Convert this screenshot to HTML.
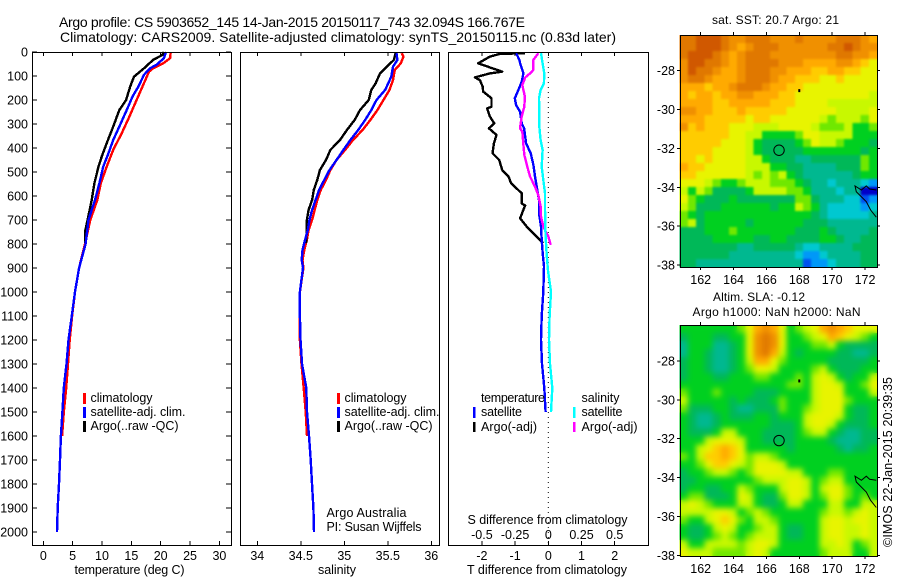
<!DOCTYPE html>
<html>
<head>
<meta charset="utf-8">
<title>Argo profile chart</title>
<style>
html,body{margin:0;padding:0;background:#fff;}
svg{display:block;}
text{font-family:"Liberation Sans",sans-serif;font-size:12.5px;fill:#000;}
.ttl{font-size:14px;}
.sm{font-size:12px;}
</style>
</head>
<body>
<svg id="chart" xmlns="http://www.w3.org/2000/svg" width="900" height="580" viewBox="0 0 900 580">
<defs>
<filter id="blurSst" x="0" y="0" width="100%" height="100%" color-interpolation-filters="sRGB"><feGaussianBlur in="SourceGraphic" stdDeviation="1" result="b"/><feMerge><feMergeNode in="SourceGraphic"/><feMergeNode in="b"/></feMerge></filter>
<filter id="blurSla" x="0" y="0" width="100%" height="100%" color-interpolation-filters="sRGB"><feGaussianBlur in="SourceGraphic" stdDeviation="2.8" result="b"/><feMerge><feMergeNode in="SourceGraphic"/><feMergeNode in="b"/></feMerge></filter>
</defs>
<rect x="0" y="0" width="900" height="580" fill="#fff"/>
<g id="maps"></g>
<g id="plots"></g>
<g id="ticks"></g>

<text class="ttl" x="59" y="27" textLength="466" lengthAdjust="spacing">Argo profile: CS 5903652_145 14-Jan-2015 20150117_743 32.094S 166.767E</text>
<text class="ttl" x="60" y="42" textLength="556" lengthAdjust="spacing">Climatology: CARS2009. Satellite-adjusted climatology: synTS_20150115.nc (0.83d later)</text>

<text x="129.5" y="574" text-anchor="middle" textLength="110" lengthAdjust="spacing">temperature (deg C)</text>
<text x="337" y="574" text-anchor="middle" textLength="38" lengthAdjust="spacing">salinity</text>
<text x="547" y="574" text-anchor="middle" textLength="160" lengthAdjust="spacing">T difference from climatology</text>
<text x="547.5" y="524" text-anchor="middle" textLength="160" lengthAdjust="spacing">S difference from climatology</text>

<g>
<rect x="83" y="393" width="3" height="11" fill="#f00"/>
<rect x="83" y="407" width="3" height="11" fill="#00f"/>
<rect x="83" y="421" width="3" height="11" fill="#000"/>
<text x="90.5" y="402" textLength="62" lengthAdjust="spacing">climatology</text>
<text x="90.5" y="416" textLength="95" lengthAdjust="spacing">satellite-adj. clim.</text>
<text x="90.5" y="430" textLength="88" lengthAdjust="spacing">Argo(..raw -QC)</text>
</g>
<g>
<rect x="337" y="393" width="3" height="11" fill="#f00"/>
<rect x="337" y="407" width="3" height="11" fill="#00f"/>
<rect x="337" y="421" width="3" height="11" fill="#000"/>
<text x="344.5" y="402" textLength="62" lengthAdjust="spacing">climatology</text>
<text x="344.5" y="416" textLength="95" lengthAdjust="spacing">satellite-adj. clim.</text>
<text x="344.5" y="430" textLength="88" lengthAdjust="spacing">Argo(..raw -QC)</text>
<text x="326.5" y="517" textLength="80" lengthAdjust="spacing">Argo Australia</text>
<text x="326.5" y="531" textLength="95" lengthAdjust="spacing">PI: Susan Wijffels</text>
</g>
<g>
<text x="481" y="402" textLength="64" lengthAdjust="spacing">temperature</text>
<rect x="473" y="407" width="2.5" height="11" fill="#00f"/>
<text x="481" y="416" textLength="41" lengthAdjust="spacing">satellite</text>
<rect x="473" y="422" width="2.5" height="10" fill="#000"/>
<text x="481" y="431" textLength="56" lengthAdjust="spacing">Argo(-adj)</text>
<text x="581.5" y="402" textLength="38" lengthAdjust="spacing">salinity</text>
<rect x="573" y="407" width="2.5" height="11" fill="#0ff"/>
<text x="581.5" y="416" textLength="41" lengthAdjust="spacing">satellite</text>
<rect x="573" y="422" width="2.5" height="10" fill="#f0f"/>
<text x="581.5" y="431" textLength="56" lengthAdjust="spacing">Argo(-adj)</text>
</g>

<text class="sm" x="775.5" y="24" text-anchor="middle" textLength="127" lengthAdjust="spacing">sat. SST: 20.7 Argo: 21</text>
<text class="sm" x="759" y="301" text-anchor="middle" textLength="92" lengthAdjust="spacing">Altim. SLA: -0.12</text>
<text class="sm" x="776.5" y="316" text-anchor="middle" textLength="168" lengthAdjust="spacing">Argo h1000: NaN h2000: NaN</text>
<text transform="translate(892,547) rotate(-90)" textLength="170" lengthAdjust="spacing">©IMOS 22-Jan-2015 20:39:35</text>
</svg>

<script>
/* ---------- profile data ---------- */
const depthTicks = [0,100,200,300,400,500,600,700,800,900,1000,1100,1200,1300,1400,1500,1600,1700,1800,1900,2000];
const tempTicks = [0,5,10,15,20,25,30];
const salTicks = [34,34.5,35,35.5,36];
const salTickLabels = ['34','34.5','35','35.5','36'];
const tDiffTicks = [-2,-1,0,1,2];
const sDiffTicks = [-0.5,-0.25,0,0.25,0.5];
const sDiffTickLabels = ['-0.5','-0.25','0','0.25','0.5'];
const lonTicks = [162,164,166,168,170,172];
const latTicks = [-28,-30,-32,-34,-36,-38];

const tempClimDepth = [0,26,47,68,82,144,200,270,339,408,478,547,617,700,800,900,1000,1100,1200,1300,1400,1500,1600];
const tempClim = [21.7,21.6,20.45,18.7,18,16.9,15.9,14.65,13.35,11.9,10.8,9.8,9.2,8,7.1,6.1,5.4,4.9,4.5,4.2,3.9,3.5,3.2];
const tempSatDepth = [0,26,53,68,95,144,186,242,311,367,422,478,547,617,700,800,900,1000,1100,1200,1300,1400,1500,1600,1700,1800,1900,2000];
const tempSat = [20.9,20.55,19.3,18.2,17.15,16.2,15.2,14.2,12.95,11.9,11.1,10.2,9.55,8.8,7.7,7.2,6.1,5.4,4.85,4.3,3.95,3.5,3.25,3,2.85,2.68,2.45,2.33];
const tempArgoDepth = [0,12,33,68,103,144,200,242,311,380,436,478,547,617,700,750,796];
const tempArgo = [20.55,20.3,18.7,17.15,15.45,14.8,14.1,12.95,11.9,10.8,9.95,9.4,8.7,8.25,7.55,7.1,7.1];

const salClimDepth = [5,19,47,75,117,158,200,242,283,325,367,408,450,492,533,575,617,658,700,742,783,825,867,900,1000,1100,1200,1300,1400,1500,1600];
const salClim = [35.66,35.68,35.65,35.58,35.56,35.52,35.45,35.38,35.3,35.21,35.1,35.01,34.91,34.84,34.79,34.73,34.69,34.66,34.63,34.59,34.57,34.54,34.52,34.53,34.49,34.485,34.49,34.508,34.533,34.556,34.571];
const salSatDepth = [5,33,61,103,158,200,242,283,325,367,408,450,492,533,575,617,658,700,742,783,825,867,900,1000,1100,1200,1300,1400,1500,1600,1700,1800,1900,2000];
const salSat = [35.6,35.61,35.56,35.54,35.47,35.37,35.31,35.24,35.16,35.07,34.99,34.91,34.83,34.77,34.71,34.67,34.63,34.6,34.58,34.55,34.52,34.51,34.525,34.49,34.49,34.497,34.514,34.563,34.571,34.594,34.614,34.629,34.645,34.652];
const salArgoDepth = [5,33,61,89,131,158,200,242,283,325,367,408,450,492,533,575,617,658,700,742,797];
const salArgo = [35.59,35.57,35.49,35.41,35.36,35.31,35.28,35.18,35.12,35.03,34.95,34.84,34.79,34.72,34.69,34.65,34.63,34.59,34.57,34.57,34.56];

const diffTArgoDepth = [5,8,19,47,64,82,89,106,117,144,165,193,228,235,269,297,318,346,381,422,450,492,519,547,589,631,640,693,728,769,797];
const diffTArgo = [-0.7,-1.46,-1.76,-2.11,-1.76,-1.39,-1.76,-2.21,-2.06,-1.98,-1.96,-1.71,-1.71,-1.84,-1.76,-1.63,-1.79,-1.56,-1.64,-1.68,-1.48,-1.39,-1.2,-1.12,-0.8,-0.8,-0.7,-0.85,-0.65,-0.35,-0.15];
const diffTSatDepth = [5,33,47,89,124,158,193,221,249,297,318,381,422,471,519,561,617,672,728,783,839,894,1000,1100,1200,1300,1400,1500];
const diffTSat = [-0.97,-0.87,-0.85,-0.75,-0.8,-0.9,-1.01,-0.97,-0.85,-0.8,-0.73,-0.67,-0.53,-0.45,-0.4,-0.35,-0.28,-0.28,-0.22,-0.2,-0.17,-0.13,-0.15,-0.2,-0.22,-0.19,-0.12,-0.08];
const diffSArgoDepth = [5,33,75,89,106,138,186,228,269,318,332,381,429,478,519,561,596,644,686,728,769,804];
const diffSArgo = [-0.075,-0.113,-0.113,-0.138,-0.173,-0.196,-0.176,-0.181,-0.2,-0.213,-0.196,-0.188,-0.181,-0.158,-0.138,-0.1,-0.075,-0.058,-0.055,-0.038,0,0.018];
const diffSSatDepth = [5,47,89,131,158,193,256,311,367,408,478,533,589,644,714,769,839,908,1000,1100,1200,1300,1400,1500];
const diffSSat = [-0.055,-0.043,-0.03,-0.033,-0.058,-0.07,-0.068,-0.068,-0.058,-0.043,-0.05,-0.038,-0.025,-0.025,-0.023,-0.02,-0.013,-0.003,0.02,0.01,0.005,0.013,0.03,0.02];

/* ---------- map data: one character per cell, level z,0..d ---------- */
const sstGrid = [
"ccdddcbbcccbbbcbbbbcccba",
"ccdddcbabcccbbbbbbccdcbb",
"cdddcbabcccbbbbbbbbccbba",
"bddccbabccccbbbaaaabba98",
"bdccbaabcccbbaaa99aa9988",
"bccbaaabcccbaa9998898888",
"aaa9aabcccbaa99888888888",
"a9aa9aabbaaa998888888887",
"aaaa99aaaaa9998888777777",
"bbaa999a9999988888877778",
"aaa999998998888887677768",
"b9a999888777888876667556",
"999999887755556887777555",
"999998887544445687765554",
"999988887544444555555545",
"998988887754443344444465",
"a99888887775544333344465",
"998888887676754333333455",
"888765567776665433233321",
"7576444457777665333233zz",
"865444544444446643332201",
"764445555554557653222212",
"654555555555555543222223",
"674555554555555444333333",
"444555655555554445433334",
"444455555445544445543344",
"444444433444443223333444",
"444444333333332112333344",
"443333333333333011233344"
];
const slaGrid = [
"555555568aba85678aba9888",
"455544558bcb855678a98765",
"355533458bcb855566754444",
"355433458bca754555544334",
"455433457aa8655555444445",
"455433456887555567544455",
"455544555665556578754557",
"555555555555566578875568",
"655565555444555578885557",
"755555454445655578886555",
"644455433444655678885445",
"543345444554555788875445",
"543345555554445788754445",
"544457755544445677543344",
"555788875544445555433344",
"55789a985555545555543445",
"65799a986776555555555555",
"556899876888755555555555",
"455677656888877555665555",
"445555555677788756775555",
"455445576555788757886555",
"566444587544688756886565",
"787655577544577555775577",
"777788756765555556776787",
"655789865776555557887887",
"544578755677544557887787",
"544567656777544557887787",
"755777767887555557787567",
"877766667875555556777557"
];
const coastLon = [172.69,172.28,172.08,171.78,171.39,171.47,172.08,172.34,172.69];
const coastLat = [-34.14,-34.09,-33.93,-34.14,-33.93,-34.23,-34.74,-35.17,-35.54];
const floatLon = [166.767];
const floatLat = [-32.094];
const islandLon = [168];
const islandLat = [-29];
const palette = {'z':'#0000c8','0':'#0050f0','1':'#0098f8','2':'#00c8d0','3':'#00b890','4':'#00b858','5':'#00d020','6':'#70e800','7':'#c8f800','8':'#e8f400','9':'#ffcc00','a':'#ffaa00','b':'#f09000','c':'#e07800','d':'#d05800'};

/* ---------- scales ---------- */
const NS = 'http://www.w3.org/2000/svg';
const plotsG = document.getElementById('plots');
const ticksG = document.getElementById('ticks');
const mapsG = document.getElementById('maps');
const TOP = 52, BOT = 545;
const yDepth = d => 52 + d * 0.2399;
const xTemp = t => 43.3 + t * 5.87;
const xSal = s => 257.3 + (s - 34) * 87;
const xDT = t => 548.3 + t * 33.2;
const xDS = s => 548.3 + s * 132.8;
const xLon = lon => 700.7 + (lon - 162) * 16.43;
const ySst = lat => 70.7 + (-28 - lat) * 19.43;
const ySla = lat => 361 + (-28 - lat) * 19.43;

function mk(parent, tag, attrs, name) {
  const el = document.createElementNS(NS, tag);
  for (const k in attrs) el.setAttribute(k, attrs[k]);
  
  
  parent.appendChild(el);
  return el;
}
function txt(parent, x, y, s, anchor, name) {
  const el = mk(parent, 'text', {x: x, y: y, 'text-anchor': anchor}, name);
  el.textContent = s;
  return el;
}
function tick(x1, y1, x2, y2, name) {
  mk(ticksG, 'line', {x1: x1, y1: y1, x2: x2, y2: y2, stroke: '#000', 'stroke-width': 1, 'shape-rendering': 'crispEdges'}, name);
}
function profile(depths, vals, sx, color, name) {
  const pts = depths.map((d, i) => sx(vals[i]).toFixed(1) + ',' + yDepth(d).toFixed(1)).join(' ');
  mk(plotsG, 'polyline', {points: pts, fill: 'none', stroke: color, 'stroke-width': 2.4, 'stroke-linejoin': 'round', 'shape-rendering': 'crispEdges'}, name);
}
function frame(x0, y0, x1, y1, name) {
  mk(ticksG, 'rect', {x: x0 + 0.5, y: y0 + 0.5, width: x1 - x0, height: y1 - y0, fill: 'none', stroke: '#000', 'stroke-width': 1, 'shape-rendering': 'crispEdges'}, name);
}

/* ---------- profile panels ---------- */
profile(tempClimDepth, tempClim, xTemp, '#f00', 'temperature-climatology-line');
profile(tempArgoDepth, tempArgo, xTemp, '#000', 'temperature-argo-line');
profile(tempSatDepth, tempSat, xTemp, '#00f', 'temperature-satellite-line');
profile(salClimDepth, salClim, xSal, '#f00', 'salinity-climatology-line');
profile(salArgoDepth, salArgo, xSal, '#000', 'salinity-argo-line');
profile(salSatDepth, salSat, xSal, '#00f', 'salinity-satellite-line');
mk(plotsG, 'line', {x1: xDT(0), y1: TOP, x2: xDT(0), y2: BOT, stroke: '#000', 'stroke-width': 1, 'stroke-dasharray': '1 4'}, 'zero-difference-line');
profile(diffTArgoDepth, diffTArgo, xDT, '#000', 'difference-t-argo-line');
profile(diffTSatDepth, diffTSat, xDT, '#00f', 'difference-t-satellite-line');
profile(diffSArgoDepth, diffSArgo, xDS, '#f0f', 'difference-s-argo-line');
profile(diffSSatDepth, diffSSat, xDS, '#0ff', 'difference-s-satellite-line');

frame(32, TOP, 231, BOT, 'temperature-panel-frame');
frame(240, TOP, 439, BOT, 'salinity-panel-frame');
frame(448, TOP, 648, BOT, 'difference-panel-frame');

depthTicks.forEach(d => {
  const y = yDepth(d);
  tick(32, y, 37, y, 'depth-tick-left');
  tick(231, y, 226, y, 'depth-tick-right');
  txt(ticksG, 28, y + 4.5, String(d), 'end', 'depth-tick-label');
});
tempTicks.forEach(t => {
  const x = xTemp(t);
  tick(x, TOP, x, TOP + 4, 'temperature-tick-top');
  tick(x, BOT, x, BOT - 4, 'temperature-tick-bottom');
  txt(ticksG, x, 560, String(t), 'middle', 'temperature-tick-label');
});
salTicks.forEach((s, i) => {
  const x = xSal(s);
  tick(x, TOP, x, TOP + 4, 'salinity-tick-top');
  tick(x, BOT, x, BOT - 4, 'salinity-tick-bottom');
  txt(ticksG, x, 560, salTickLabels[i], 'middle', 'salinity-tick-label');
});
tDiffTicks.forEach(t => {
  const x = xDT(t);
  tick(x, TOP, x, TOP + 4, 'difference-tick-top');
  tick(x, BOT, x, BOT - 4, 'difference-tick-bottom');
  txt(ticksG, x, 560, String(t), 'middle', 't-difference-tick-label');
});
sDiffTicks.forEach((s, i) => {
  txt(ticksG, xDS(s), 539, sDiffTickLabels[i], 'middle', 's-difference-tick-label');
});

/* ---------- maps ---------- */
function drawMap(grid, yLat, top, bottom, key, filterId) {
  const left = 679.7, right = 877;
  const cols = 24, rows = grid.length;
  const lonL = 162 + (left - 700.7) / 16.43, lonR = 162 + (right - 700.7) / 16.43;
  const latT = -28 - (top - yLat(-28)) / 19.43, latB = -28 - (bottom - yLat(-28)) / 19.43;
  const g = mk(mapsG, 'g', {'shape-rendering': 'crispEdges', filter: 'url(#' + filterId + ')'}, key + '-heatmap');
  grid.forEach((row, r) => {
    for (let c = 0; c < cols; c++) {
      const lon0 = lonL + (lonR - lonL) * c / cols, lon1 = lonL + (lonR - lonL) * (c + 1) / cols;
      const lat0 = latT + (latB - latT) * r / rows, lat1 = latT + (latB - latT) * (r + 1) / rows;
      mk(g, 'rect', {x: xLon(lon0), y: yLat(lat0), width: xLon(lon1) - xLon(lon0) + 0.5, height: yLat(lat1) - yLat(lat0) + 0.5, fill: palette[row[c]] || palette['5']}, key + '-cell');
    }
  });
  const pts = coastLon.map((lon, i) => xLon(lon).toFixed(1) + ',' + yLat(coastLat[i]).toFixed(1)).join(' ');
  mk(mapsG, 'polyline', {points: pts, fill: 'none', stroke: '#000', 'stroke-width': 1}, key + '-coastline');
  mk(mapsG, 'circle', {cx: xLon(floatLon[0]), cy: yLat(floatLat[0]), r: 5.2, fill: 'none', stroke: '#000', 'stroke-width': 1}, key + '-float-position');
  mk(mapsG, 'rect', {x: xLon(islandLon[0]) - 1, y: yLat(islandLat[0]) - 1, width: 2, height: 3, fill: '#000'}, key + '-island-marker');
  frame(680, top, 877, bottom, key + '-map-frame');
  lonTicks.forEach(lon => {
    const x = xLon(lon);
    tick(x, top, x, top - 3, key + '-lon-tick-top');
    tick(x, bottom, x, bottom + 3, key + '-lon-tick-bottom');
    txt(ticksG, x, bottom + 17, String(lon), 'middle', key + '-lon-tick-label');
  });
  latTicks.forEach(lat => {
    const y = yLat(lat);
    tick(877, y, 880, y, key + '-lat-tick-right');
    tick(680, y, 677, y, key + '-lat-tick-left');
    txt(ticksG, 675, y + 4.5, String(lat), 'end', key + '-lat-tick-label');
  });
}
drawMap(sstGrid, ySst, 35, 267, 'sst', 'blurSst');
drawMap(slaGrid, ySla, 325, 556, 'sla', 'blurSla');
</script>
</body>
</html>
